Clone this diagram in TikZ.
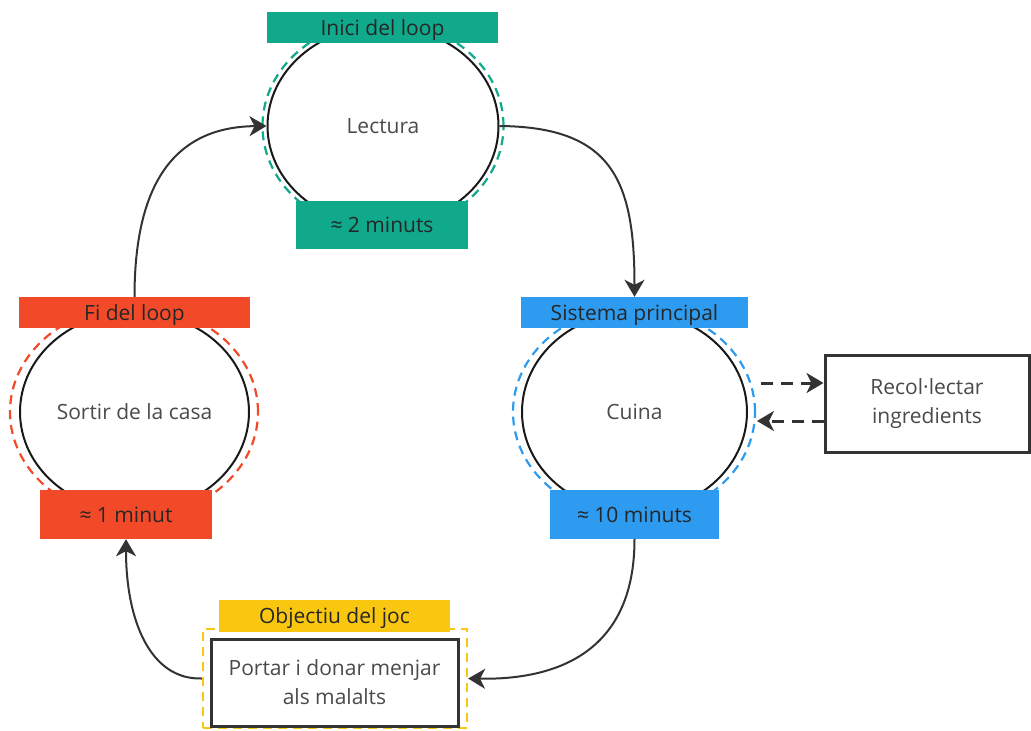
\documentclass[tikz,border=0pt]{standalone}
\usepackage{fontspec}
\setmainfont{Open Sans}
\usetikzlibrary{shapes.geometric,arrows.meta}
\definecolor{loopteal}{HTML}{10A98B}
\definecolor{loopred}{HTML}{F24A28}
\definecolor{loopblue}{HTML}{2D9BF0}
\definecolor{loopyellow}{HTML}{FAC710}
\definecolor{ink}{HTML}{333333}
\definecolor{softink}{HTML}{4A4A4A}
\begin{document}
\begin{tikzpicture}[x=1pt,y=-1pt,
  every node/.style={font=\fontsize{21}{29}\selectfont, inner sep=0pt},
  stage/.style={ellipse, draw=black!90, line width=2pt, fill=white, text=softink},
  halo/.style={ellipse, draw=#1, line width=2.2pt, dash pattern=on 9pt off 6pt},
  tag/.style={rectangle, fill=#1, text=black!85, text depth=0pt},
  taskbox/.style={rectangle, draw=ink, line width=3pt, fill=white, text=softink, align=center},
  conn/.style={draw=ink, line width=2pt, -{Stealth[length=17pt,width=20pt,inset=5pt]}},
  dconn/.style={conn, line width=3pt, dash pattern=on 12pt off 8pt}
]
\useasboundingbox (0,0) rectangle (1031,731);

% dashed outlines around the stages
\node[halo=loopteal, minimum width=241pt, minimum height=210pt] (toph) at (383,126) {};
\node[halo=loopred, minimum width=248pt, minimum height=212pt] (lefth) at (134,412) {};
\node[halo=loopblue, minimum width=242pt, minimum height=210pt] (righth) at (634,412) {};

% the three stages of the loop
\node[stage, minimum width=231pt, minimum height=200pt] (lectura) at (383,126) {Lectura};
\node[stage, minimum width=229pt, minimum height=200pt] (sortir) at (134.5,412) {Sortir de la casa};
\node[stage, minimum width=225pt, minimum height=200pt] (cuina) at (634.5,412) {Cuina};

% title and duration tags
\node[tag=loopteal, minimum width=231pt, minimum height=31pt] (inici) at (382.5,27.5) {Inici del loop};
\node[tag=loopteal, minimum width=172pt, minimum height=48pt] (dur2) at (382,225) {≈ 2 minuts};
\node[tag=loopred, minimum width=231pt, minimum height=31pt] (fi) at (134.5,312.5) {Fi del loop};
\node[tag=loopred, minimum width=172pt, minimum height=49pt] (dur1) at (126,514.5) {≈ 1 minut};
\node[tag=loopblue, minimum width=227pt, minimum height=31pt] (sistema) at (634.5,312.5) {Sistema principal};
\node[tag=loopblue, minimum width=169pt, minimum height=49pt] (dur10) at (634.5,514.5) {≈ 10 minuts};

% game goal
\node[tag=loopyellow, minimum width=231pt, minimum height=32pt] (objectiu) at (334.5,616) {Objectiu del joc};
\node[draw=loopyellow, line width=2.2pt, dash pattern=on 9pt off 6pt, minimum width=264pt, minimum height=99pt] (goalframe) at (335,678.5) {};
\node[taskbox, minimum width=247pt, minimum height=87pt] (portar) at (334.5,682.5) {Portar i donar menjar\\als malalts};

% side task
\node[taskbox, minimum width=204pt, minimum height=97pt] (recol) at (927,403.5) {Recol·lectar\\ingredients};

% loop connectors
\draw[conn] (lectura.east) .. controls (612,127) and (634.5,180) .. (sistema.north);
\draw[conn] (dur10.south) .. controls (634.5,650) and (560,680) .. (goalframe.east);
\draw[conn] (goalframe.west) .. controls (150,680) and (126,620) .. (dur1.south);
\draw[conn] (fi.north) .. controls (134.5,190) and (170,127) .. (lectura.west);

% exchange with the side task
\coordinate (outA) at (761,383);
\coordinate (backB) at (757,421);
\draw[dconn] (outA) -- (recol.west |- outA);
\draw[dconn] (recol.west |- backB) -- (backB);
\end{tikzpicture}
\end{document}
